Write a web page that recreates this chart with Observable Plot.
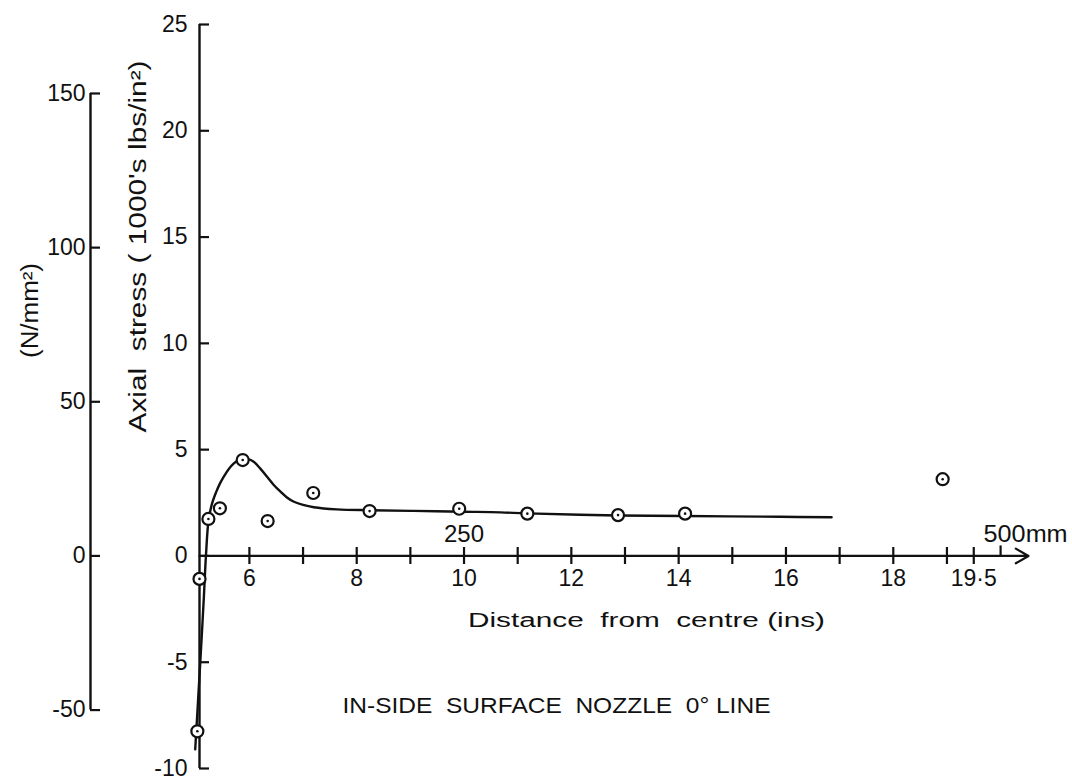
<!DOCTYPE html>
<html><head><meta charset="utf-8">
<script src="https://cdn.jsdelivr.net/npm/d3@7"></script>
<script src="https://cdn.jsdelivr.net/npm/@observablehq/plot@0.6"></script>
<style>body{margin:0;background:#fff} svg{display:block}</style>
</head><body><div id="chart"></div>
<script>
// measured points: distance from centre (ins) and axial stress (1000's lbs/in²)
const pointX = [5.03, 5.07, 5.236, 5.45, 5.875, 6.34, 7.19, 8.24, 9.91, 11.18, 12.87, 14.12, 18.92];
const pointY = [-8.25, -1.08, 1.74, 2.24, 4.51, 1.64, 2.96, 2.11, 2.22, 1.99, 1.92, 1.99, 3.61];
// hand-drawn fitted curve
const curveX = [4.99, 5.05, 5.1, 5.15, 5.19, 5.24, 5.305, 5.38, 5.45, 5.52, 5.62, 5.71, 5.8, 5.9, 5.98, 6.08, 6.2, 6.33, 6.45, 6.58, 6.7, 6.83, 7.0, 7.2, 7.63, 8.24, 9.06, 10.0, 10.68, 11.18, 12.87, 14.12, 15.89, 16.85];
const curveY = [-9.1, -6.5, -4.3, -2.0, 0.0, 1.7, 2.47, 3.0, 3.4, 3.72, 4.1, 4.35, 4.52, 4.58, 4.55, 4.43, 4.12, 3.72, 3.35, 3.02, 2.75, 2.55, 2.4, 2.29, 2.19, 2.15, 2.12, 2.08, 2.05, 2.0, 1.9, 1.88, 1.84, 1.82];

const yTicks = [-10, -5, 0, 5, 10, 15, 20, 25];
const nTicks = [-50, 0, 50, 100, 150];        // N/mm²
const nPerKsi = 6.895;
const xTicks = [6, 7, 8, 9, 10, 11, 12, 13, 14, 15, 16, 17, 18, 19, 19.5];
const xLabelTicks = [6, 8, 10, 12, 14, 16, 18, 19.5];
const xLabelText = ["6", "8", "10", "12", "14", "16", "18", "19·5"];
const mmTickX = [20];
const mmLabelX = [10, 20];
const mmLabelText = ["250", "500mm"];
const xStart = 5.07, xEnd = 20.52;
const yLabel = "Axial  stress ( 1000's lbs/in²)";
const nLabel = "(N/mm²)";
const xLabel = "Distance  from  centre (ins)";
const title = "IN-SIDE  SURFACE  NOZZLE  0° LINE";

const FONT = "'Liberation Sans', Arial, sans-serif";
const INK = "#111";
const pts = pointX.map((x, i) => ({x, y: pointY[i]}));
const curve = curveX.map((x, i) => ({x, y: curveY[i]}));

const plot = Plot.plot({
  width: 1072, height: 780,
  marginLeft: 199, marginRight: 44, marginTop: 24, marginBottom: 12,
  x: {domain: [xStart, xEnd]},
  y: {domain: [-10, 25]},
  style: {fontFamily: FONT, fontSize: "23px", color: INK, background: "#fff", overflow: "visible"},
  marks: [
    // primary y axis
    Plot.ruleX([xStart], {y1: -10, y2: 25, stroke: INK, strokeWidth: 2.4}),
    Plot.axisY({anchor: "left", ticks: yTicks, tickSize: 10, dx: 10, text: null, label: null, strokeWidth: 2.2}),
    Plot.axisY({anchor: "left", ticks: yTicks, tickFormat: d => String(d), tickSize: 0, tickPadding: 12, label: null, fontSize: 23}),
    // secondary N/mm² axis
    Plot.ruleX([xStart], {y1: nTicks[0] / nPerKsi, y2: nTicks[nTicks.length - 1] / nPerKsi, dx: -109, stroke: INK, strokeWidth: 2.4}),
    Plot.axisY({anchor: "left", ticks: nTicks.map(v => v / nPerKsi), tickSize: 10, dx: -99, text: null, label: null, strokeWidth: 2.2}),
    Plot.axisY({anchor: "left", ticks: nTicks.map(v => v / nPerKsi), tickFormat: v => String(Math.round(v * nPerKsi)), tickSize: 0, tickPadding: 0, dx: -114, label: null, fontSize: 23}),
    // x axis with arrow
    Plot.arrow([0], {x1: xStart, y1: 0, x2: xEnd, y2: 0, stroke: INK, strokeWidth: 2.2, headLength: 10}),
    Plot.axisX({anchor: "bottom", ticks: xTicks, tickSize: 17, dy: -221, text: null, label: null, strokeWidth: 2.2}),
    Plot.axisX({anchor: "bottom", ticks: xLabelTicks, tickFormat: d => xLabelText[xLabelTicks.indexOf(d)], tickSize: 0, tickPadding: 0, dy: -199, label: null, fontSize: 23}),
    Plot.axisX({anchor: "top", ticks: mmTickX, tickSize: 11, dy: 531.4, text: null, label: null, strokeWidth: 2.2}),
    Plot.text([mmLabelX[0]], {x: d => d, y: 0, text: () => mmLabelText[0], textAnchor: "middle", dy: -14, lineAnchor: "bottom", fontSize: 24}),
    Plot.text([mmLabelX[1]], {x: d => d, y: 0, text: () => mmLabelText[1], textAnchor: "start", dx: -17, dy: -14, lineAnchor: "bottom", fontSize: 24}),
    // curve and points
    Plot.line(curve, {x: "x", y: "y", curve: "catmull-rom", stroke: INK, strokeWidth: 2.4}),
    Plot.dot(pts, {x: "x", y: "y", r: 6, fill: "#fff", stroke: INK, strokeWidth: 2.2}),
    Plot.dot(pts, {x: "x", y: "y", r: 1.3, fill: INK}),
    // labels
    Plot.text([yLabel], {frameAnchor: "top-left", dx: -61, dy: 222, rotate: -90, textAnchor: "middle", lineAnchor: "middle", fontSize: 23}),
    Plot.text([nLabel], {frameAnchor: "top-left", dx: -169, dy: 286, rotate: -90, textAnchor: "middle", lineAnchor: "middle", fontSize: 23}),
    Plot.text([xLabel], {frameAnchor: "top-left", dx: 447, dy: 596, textAnchor: "middle", lineAnchor: "middle", fontSize: 20}),
    Plot.text([title], {frameAnchor: "top-left", dx: 357, dy: 681, textAnchor: "middle", lineAnchor: "middle", fontSize: 22})
  ]
});
document.getElementById("chart").append(plot);
// fit long labels to the measured lengths
const fit = {[yLabel]: 372, [nLabel]: 95, [xLabel]: 357, [title]: 428, "500mm": 84};
d3.select(plot).selectAll("text").each(function() {
  const t = this.textContent;
  if (fit[t]) { this.setAttribute("textLength", fit[t]); this.setAttribute("lengthAdjust", "spacingAndGlyphs"); }
});
</script></body></html>
